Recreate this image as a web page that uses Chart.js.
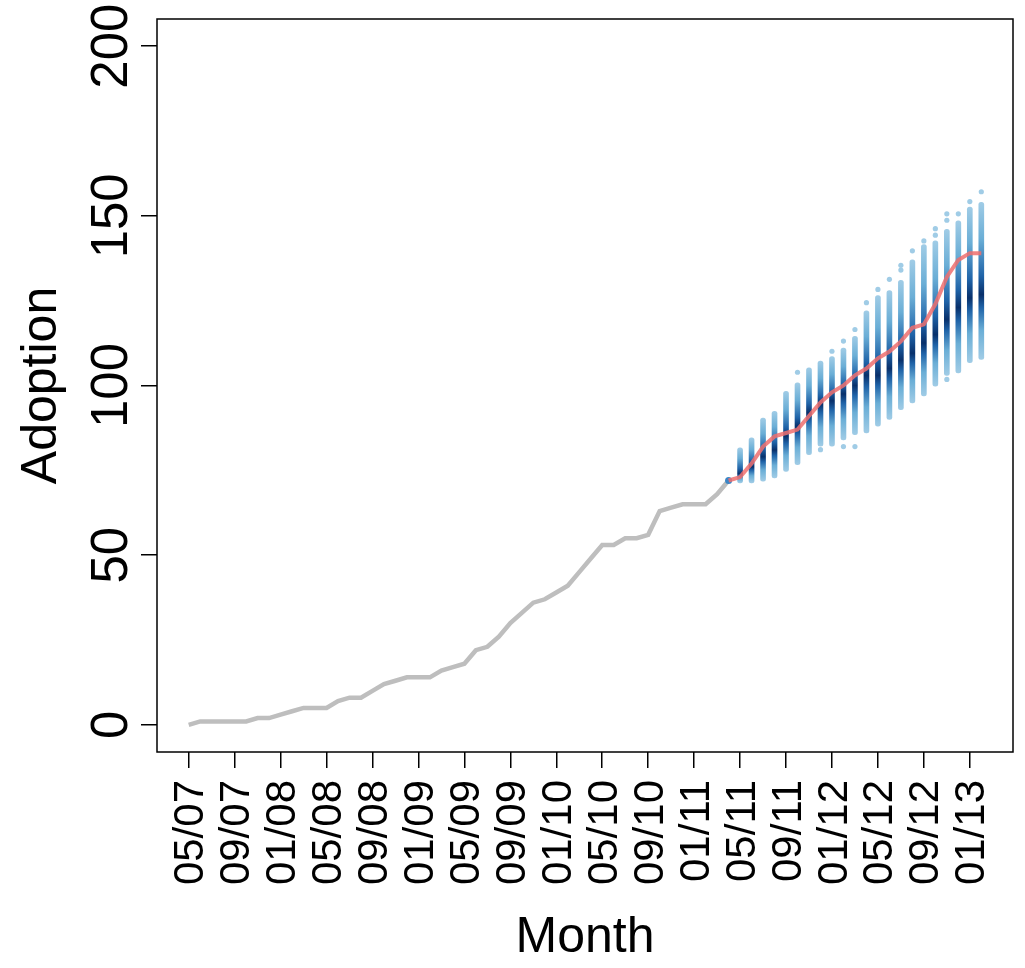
<!DOCTYPE html>
<html>
<head>
<meta charset="utf-8">
<script src="https://cdn.jsdelivr.net/npm/chart.js@4.4.1/dist/chart.umd.min.js"></script>
<style>
  html, body { margin: 0; padding: 0; background: #fff; }
  #wrap { width: 1025px; height: 968px; }
</style>
</head>
<body>
<div id="wrap"><canvas id="chart"></canvas></div>
<script>
// observed adoption, one value per month starting 05/07 (month 0)
const observed = [0, 1, 1, 1, 1, 1, 2, 2, 3, 4, 5, 5, 5, 7, 8, 8, 10, 12, 13, 14, 14, 14, 16, 17,
    18, 22, 23, 26, 30, 33, 36, 37, 39, 41, 45, 49, 53, 53, 55, 55, 56, 63, 64, 65, 65, 65, 68, 72];

// red line, months 47..69
const forecastStart = 47;
const forecast = [72, 73, 77, 82, 85, 86, 87, 91, 95, 98, 100, 103, 105, 108, 110, 113, 117, 118,
    124, 132, 137, 139, 139];

// simulated spread per month, months 48..69
const simStart = 48;
const simLow = [71.3, 71.3, 71.8, 72.8, 74.7, 76.7, 79.6, 82.1, 82.1, 84, 85.5, 86, 88, 90, 92.9,
    94.9, 96.9, 99.8, 103, 103.7, 106.7, 107.7];
const simHigh = [81.6, 84.6, 90.4, 92.4, 98.3, 100.8, 105.2, 107.2, 108.5, 111, 114.5, 122, 126.5,
    128, 131, 137, 141.5, 142.6, 146, 148.5, 152.6, 154];
const simCenter = [74, 76, 79, 81, 85, 88, 92, 94.5, 95.5, 97.5, 100, 103, 103, 105, 107.5, 109.5,
    112.5, 115, 119.5, 123, 125.8, 126.8];

// stray simulated values outside the dense columns
const outlierMonths = [53, 55, 56, 57, 57, 58, 58, 59, 60, 61, 62, 62, 63, 64, 65, 65, 66, 66, 66, 67, 68, 69];
const outlierValues = [103.9, 81.1, 110.1, 113.1, 82, 116.5, 82, 124.4, 128.3, 131.3, 135.4, 134,
    139.7, 142.6, 146.2, 144.3, 150.6, 148.7, 101.8, 150.6, 154.2, 157.1];

const xTickMonths = [0, 4, 8, 12, 16, 20, 24, 28, 32, 36, 40, 44, 48, 52, 56, 60, 64, 68];
const xTickLabels = ['05/07', '09/07', '01/08', '05/08', '09/08', '01/09', '05/09', '09/09', '01/10',
    '05/10', '09/10', '01/11', '05/11', '09/11', '01/12', '05/12', '09/12', '01/13'];
const yTicks = [0, 50, 100, 150, 200];

const FONT = "'Liberation Sans', Arial, Helvetica, sans-serif";
const LIGHT = '#a0cce6';
const MID = '#4a93c9';
const DARK = '#08306b';

const observedPts = observed.map((v, i) => ({ x: i, y: v }));
const forecastPts = forecast.map((v, i) => ({ x: forecastStart + i, y: v }));
const simBars = simLow.map((lo, i) => ({ x: simStart + i, y: [lo, simHigh[i]] }));
const outlierPts = outlierMonths.map((m, i) => ({ x: m, y: outlierValues[i] }));

// gradient for each simulated column: light at the ends, navy around the dense centre
function columnFill(context) {
    const chart = context.chart;
    if (!chart.chartArea) return MID;
    const i = context.dataIndex;
    const y = chart.scales.y;
    const pLo = y.getPixelForValue(simLow[i]);
    const pHi = y.getPixelForValue(simHigh[i]);
    const pMid = y.getPixelForValue(simCenter[i]);
    const f = Math.min(0.95, Math.max(0.05, (pLo - pMid) / (pLo - pHi)));
    const g = chart.ctx.createLinearGradient(0, pLo, 0, pHi);
    g.addColorStop(0, LIGHT);
    g.addColorStop(f * 0.45, '#6aaed6');
    g.addColorStop(f * 0.8, '#1f63a8');
    g.addColorStop(f, DARK);
    g.addColorStop(f + (1 - f) * 0.2, '#1f63a8');
    g.addColorStop(f + (1 - f) * 0.6, '#6aaed6');
    g.addColorStop(1, LIGHT);
    return g;
}

// box around the plot region and rotated y tick labels
const framePlugin = {
    id: 'frame',
    afterDraw(chart) {
        const { ctx, chartArea } = chart;
        ctx.save();
        ctx.strokeStyle = '#000';
        ctx.lineWidth = 1.5;
        ctx.strokeRect(chartArea.left, chartArea.top, chartArea.right - chartArea.left, chartArea.bottom - chartArea.top);
        ctx.fillStyle = '#000';
        ctx.font = '51px ' + FONT;
        ctx.textAlign = 'center';
        ctx.textBaseline = 'alphabetic';
        yTicks.forEach(v => {
            const py = chart.scales.y.getPixelForValue(v);
            ctx.save();
            ctx.translate(chartArea.left - 30, py);
            ctx.rotate(-Math.PI / 2);
            ctx.fillText(String(v), 0, 0);
            ctx.restore();
        });
        ctx.restore();
    }
};

new Chart(document.getElementById('chart'), {
    data: {
        datasets: [
            {
                type: 'line',
                label: 'forecast',
                data: forecastPts,
                borderColor: 'rgba(238, 110, 110, 0.85)',
                borderWidth: 4,
                pointRadius: 0,
                tension: 0,
                order: 0
            },
            {
                type: 'scatter',
                label: 'start',
                data: [observedPts[observedPts.length - 1]],
                backgroundColor: '#3a86c6',
                pointRadius: 3.5,
                borderWidth: 0,
                order: 1
            },
            {
                type: 'line',
                label: 'observed',
                data: observedPts,
                borderColor: '#bebebe',
                borderWidth: 4.5,
                pointRadius: 0,
                tension: 0,
                order: 2
            },
            {
                type: 'scatter',
                label: 'outliers',
                data: outlierPts,
                backgroundColor: LIGHT,
                pointRadius: 2.6,
                borderWidth: 0,
                order: 3
            },
            {
                type: 'bar',
                label: 'simulations',
                data: simBars,
                backgroundColor: columnFill,
                barThickness: 5,
                borderSkipped: false,
                borderRadius: 2.5,
                grouped: false,
                order: 4
            }
        ]
    },
    plugins: [framePlugin],
    options: {
        responsive: true,
        maintainAspectRatio: false,
        animation: false,
        layout: { padding: { left: 0, top: 19, right: 12, bottom: 0 } },
        plugins: {
            legend: { display: false },
            tooltip: { enabled: false }
        },
        scales: {
            x: {
                type: 'linear',
                offset: false,
                min: -2.76,
                max: 71.76,
                afterBuildTicks: (scale) => { scale.ticks = xTickMonths.map(v => ({ value: v })); },
                afterFit: (scale) => {
                    scale.height = 216;
                    scale.paddingLeft = 0;
                    scale.paddingRight = 0;
                },
                ticks: {
                    autoSkip: false,
                    minRotation: 90,
                    maxRotation: 90,
                    padding: 12,
                    labelOffset: 3,
                    color: '#000',
                    font: { family: FONT, size: 42 },
                    callback: (value, index) => xTickLabels[index]
                },
                grid: {
                    offset: false,
                    drawOnChartArea: false,
                    drawTicks: true,
                    tickLength: 16,
                    color: '#000',
                    lineWidth: 1.5
                },
                border: { display: false },
                title: {
                    display: true,
                    text: 'Month',
                    color: '#000',
                    font: { family: FONT, size: 50 },
                    padding: { top: 0, bottom: 0 }
                }
            },
            y: {
                type: 'linear',
                min: -8,
                max: 208,
                afterBuildTicks: (scale) => { scale.ticks = yTicks.map(v => ({ value: v })); },
                afterFit: (scale) => {
                    scale.width = 157;
                    scale.paddingTop = 0;
                    scale.paddingBottom = 0;
                },
                ticks: { display: false },
                grid: {
                    drawOnChartArea: false,
                    drawTicks: true,
                    tickLength: 16,
                    color: '#000',
                    lineWidth: 1.5
                },
                border: { display: false },
                title: {
                    display: true,
                    text: 'Adoption',
                    color: '#000',
                    font: { family: FONT, size: 50 },
                    padding: { top: 12, bottom: 0 }
                }
            }
        }
    }
});
</script>
</body>
</html>
